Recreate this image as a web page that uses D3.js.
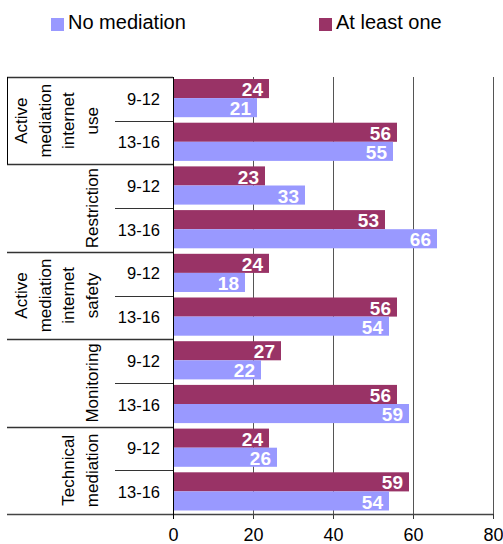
<!DOCTYPE html>
<html lang="en">
<head>
<meta charset="UTF-8">
<title>Mediation chart</title>
<script src="https://cdn.jsdelivr.net/npm/d3@7"></script>
<style>
  html, body { margin: 0; padding: 0; background: #fff; }
  svg { display: block; font-family: Arial, "Liberation Sans", sans-serif; }
</style>
</head>
<body>
<svg id="chart" width="503" height="544"></svg>
<script>
// data
var groupLines = [
  ["Active", "mediation", "internet", "use"],
  ["Restriction"],
  ["Active", "mediation", "internet", "safety"],
  ["Monitoring"],
  ["Technical", "mediation"]
];
var ages = ["9-12", "13-16"];
var seriesNames = ["No mediation", "At least one"];
var atLeastOne  = [24, 56, 23, 53, 24, 56, 27, 56, 24, 59];
var noMediation = [21, 55, 33, 66, 18, 54, 22, 59, 26, 54];
var xTicks = [0, 20, 40, 60, 80];

var colors = {"No mediation": "#9999ff", "At least one": "#993366"};

var svg = d3.select("#chart");
var plotL = 173, plotR = 493, plotT = 77, plotB = 514, tableL = 7;

// one row per group x age band
var rows = [];
groupLines.forEach(function(g, gi) {
  ages.forEach(function(a, ai) {
    var i = gi * ages.length + ai;
    rows.push({id: gi + "|" + a, group: gi, age: a,
      "At least one": atLeastOne[i], "No mediation": noMediation[i]});
  });
});

var x = d3.scaleLinear().domain([0, 80]).range([plotL, plotR]);
var y = d3.scaleBand().domain(rows.map(function(d) { return d.id; })).range([plotT, plotB]);
var ySub = d3.scaleBand().domain(["At least one", "No mediation"]).range([2, y.bandwidth() - 3.5]);

// gridlines
svg.append("g").selectAll("line")
  .data(xTicks.slice(1))
  .join("line")
  .attr("x1", function(d) { return Math.round(x(d)) + 0.5; })
  .attr("x2", function(d) { return Math.round(x(d)) + 0.5; })
  .attr("y1", plotT).attr("y2", plotB)
  .attr("stroke", "#555").attr("stroke-width", 1);

// bars
var rowG = svg.append("g").selectAll("g")
  .data(rows)
  .join("g")
  .attr("transform", function(d) { return "translate(0," + y(d.id) + ")"; });

rowG.selectAll("rect")
  .data(function(d) { return ySub.domain().map(function(s) { return {s: s, v: d[s]}; }); })
  .join("rect")
  .attr("x", x(0))
  .attr("y", function(d) { return ySub(d.s); })
  .attr("width", function(d) { return x(d.v) - x(0); })
  .attr("height", ySub.bandwidth())
  .attr("fill", function(d) { return colors[d.s]; });

rowG.selectAll("text")
  .data(function(d) { return ySub.domain().map(function(s) { return {s: s, v: d[s]}; }); })
  .join("text")
  .attr("x", function(d) { return x(d.v) - 6; })
  .attr("y", function(d) { return ySub(d.s) + ySub.bandwidth() / 2 + 1; })
  .attr("dy", "0.35em")
  .attr("text-anchor", "end")
  .attr("fill", "#fff")
  .attr("font-weight", "bold")
  .attr("font-size", "19px")
  .text(function(d) { return d.v; });

// bottom axis
var xAxis = svg.append("g")
  .attr("transform", "translate(0," + plotB + ")")
  .call(d3.axisBottom(x).tickValues(xTicks).tickSize(5).tickPadding(9));
xAxis.select(".domain").remove();
xAxis.selectAll("line").attr("stroke", "#333");
xAxis.selectAll("text").attr("font-size", "18px").attr("fill", "#000")
  .attr("font-family", "Arial, 'Liberation Sans', sans-serif");

svg.append("line")
  .attr("x1", tableL).attr("x2", plotR)
  .attr("y1", plotB + 0.5).attr("y2", plotB + 0.5)
  .attr("stroke", "#444").attr("stroke-width", 1.5);

// left axis line
svg.append("line")
  .attr("x1", plotL + 0.5).attr("x2", plotL + 0.5)
  .attr("y1", plotT).attr("y2", plotB + 5)
  .attr("stroke", "#000");

// category table: age labels and separators
rows.forEach(function(d) {
  svg.append("text")
    .attr("x", 160)
    .attr("y", y(d.id) + y.bandwidth() / 2)
    .attr("dy", "0.35em")
    .attr("text-anchor", "end")
    .attr("font-size", "16.5px")
    .text(d.age);
});

var groupTops = groupLines.map(function(g, gi) { return y(gi + "|" + ages[0]); });
groupTops.forEach(function(t, gi) {
  svg.append("line")
    .attr("x1", tableL).attr("x2", plotL)
    .attr("y1", Math.round(t) + 0.5).attr("y2", Math.round(t) + 0.5)
    .attr("stroke", "#333").attr("stroke-width", 1.3);
  var mid = y(gi + "|" + ages[1]);
  svg.append("line")
    .attr("x1", 115).attr("x2", plotL)
    .attr("y1", Math.round(mid) + 0.5).attr("y2", Math.round(mid) + 0.5)
    .attr("stroke", "#333");
});

// first group has a left border
svg.append("line")
  .attr("x1", tableL + 0.5).attr("x2", tableL + 0.5)
  .attr("y1", groupTops[0]).attr("y2", groupTops[1])
  .attr("stroke", "#000");

// rotated group labels, last line nearest the age column
groupLines.forEach(function(lines, gi) {
  var cy = groupTops[gi] + y.bandwidth();
  var n = lines.length;
  lines.forEach(function(t, li) {
    var bx = 98 - (n - 1 - li) * 23.7;
    svg.append("text")
      .attr("transform", "translate(" + bx + "," + cy + ") rotate(-90)")
      .attr("text-anchor", "middle")
      .attr("font-size", "17px")
      .text(t);
  });
});

// legend
var legend = svg.append("g").selectAll("g")
  .data(seriesNames)
  .join("g")
  .attr("transform", function(d, i) { return "translate(" + (i === 0 ? 51 : 319) + ",18)"; });
legend.append("rect").attr("width", 13).attr("height", 13)
  .attr("fill", function(d) { return colors[d]; });
legend.append("text").attr("x", 17).attr("y", 11)
  .attr("font-size", "20px")
  .text(function(d) { return d; });
</script>
</body>
</html>
